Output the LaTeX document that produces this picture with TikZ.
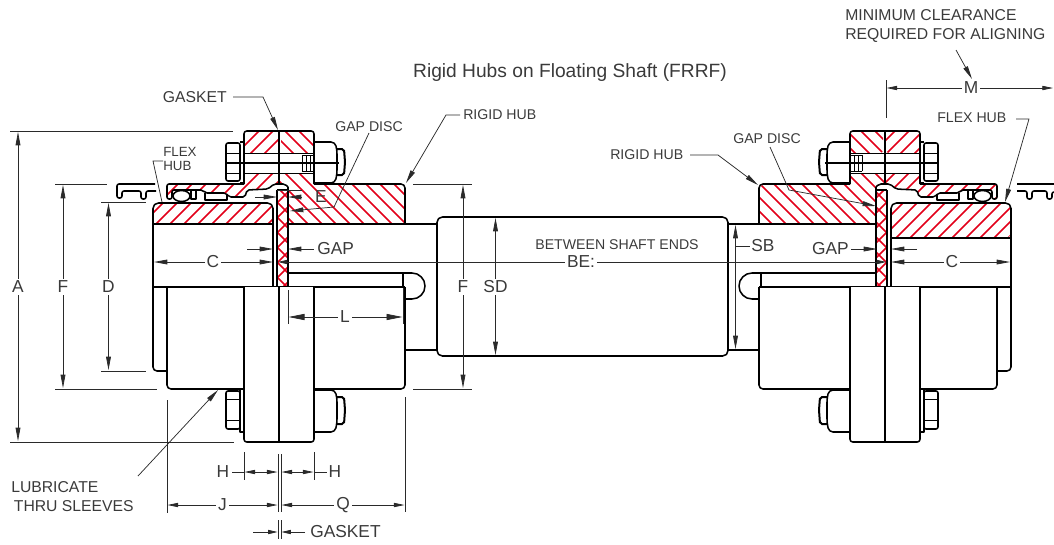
\documentclass[tikz,border=0pt]{standalone}
\usepackage{fontspec}
\setmainfont{Liberation Sans}
\usetikzlibrary{arrows.meta}
\definecolor{hatchred}{HTML}{E2001A}
\definecolor{dimgray}{HTML}{2A2A2A}
\definecolor{textgray}{HTML}{3A3A3A}
\tikzset{
  outline/.style={line width=1.15pt,black,line join=round},
  thinout/.style={line width=0.7pt,black},
  hatchline/.style={line width=1.1pt,hatchred},
  dimline/.style={line width=0.55pt,dimgray},
  tipline/.style={dimline,-{Triangle[length=10pt,width=3.6pt]}},
  smalltip/.style={dimline,-{Triangle[length=7pt,width=3.2pt]}},
  bigtip/.style={dimline,-{Triangle[length=10pt,width=4.6pt]}},
  lab/.style={font=\fontsize{13}{13}\selectfont,text=textgray,inner sep=1.5pt,fill=white},
  nolab/.style={font=\fontsize{13}{13}\selectfont,text=textgray,inner sep=0pt},
  small/.style={font=\fontsize{10.6}{10.6}\selectfont,text=textgray,inner sep=0pt},
  mid/.style={font=\fontsize{11.8}{14.4}\selectfont,text=textgray,inner sep=0pt},
}
% direction (+1 or -1), phase, clip path
\newcommand{\hatchreg}[3]{\begin{scope}\clip #3;
  \foreach \hc in {-200,-186,...,800}{\draw[hatchline] ({\hc+#2},0)--({\hc+#2+#1*560},560);}
\end{scope}}
% s = sleeve side direction, r = rigid side direction, #3 flex hub bore y
\newcommand{\halfcoupling}[3]{%
  % hatching
  \hatchreg{#1}{2}{[rounded corners=2] (244,153)--(244,131)--(278,131)--(278,153)--cycle}
  \hatchreg{#2}{4}{[rounded corners=2] (281,153)--(281,131)--(314,131)--(314,153)--cycle}
  \hatchreg{#1}{2}{(244,173)--(244,184)--(167,184)--(167,199)--(172,199)--(172,190)--(203,190)--(205,193)--(226,193)--(229,197)--(245,197)--(247,190)--(268,189)--(274,184)--(278,184)--(278,173)--cycle}
  \hatchreg{#2}{4}{(279,173)--(314,173)--(314,184)--(401,184)--(405,188)--(405,224)--(288,224)--(288,187)--(285,184)--(279,184)--cycle}
  \hatchreg{#1}{6}{[rounded corners=4] (153,#3)--(153,203)--(273,203)--(273,#3)--cycle}
  \begin{scope}\clip (277,190) rectangle (288,287);
    \foreach \hc in {0,15,...,600}{\draw[hatchline] (\hc,0)--({\hc-560},560);\draw[hatchline] ({\hc-300},0)--({\hc+260},560);}
  \end{scope}
  % upper flange
  \draw[outline,rounded corners=2] (244,184)--(244,131)--(314,131)--(314,184);
  \draw[line width=1.8pt] (279,131)--(279,184);
  \draw[thinout] (244,153)--(314,153) (244,173)--(314,173);
  % bolt head, washer
  \draw[outline,rounded corners=1.5] (240,143)--(226,143)--(226,181)--(240,181)--cycle;
  \draw[thinout] (226,153)--(240,153) (226,173)--(240,173);
  \draw[outline] (240,142)--(244,142) (240,183)--(244,183);
  % nut
  \draw[outline,rounded corners=3] (314,142)--(335,142)--(337,150)--(337,174)--(335,183)--(314,183);
  \draw[line width=1.5pt,rounded corners=1.5] (337,149)--(344,149)--(345,162)--(344,175)--(337,175);
  \draw[line width=1pt] (227,163)--(339,163);
  \draw[thinout] (302,155)--(302,171) (306,155)--(306,171) (310,155)--(310,171) (302,155)--(313,155) (302,171)--(313,171);
  % sleeve section outline
  \draw[outline,rounded corners=1.5] (244,184)--(167,184)--(167,199)--(172,199)--(172,190)--(203,190)--(205,193)--(226,193)--(229,197)--(245,197)--(247,190)--(268,189)--(274,184)--(285,184)--(288,187);
  \draw[outline] (181.5,196) ellipse [x radius=8.5,y radius=5.5];
  \draw[outline] (191,191)--(191,199)--(196,199)--(196,191);
  \draw[outline] (205,193)--(205,200)--(227,200)--(227,195);
  % rigid hub top
  \draw[outline,rounded corners=3] (314,184)--(405,184)--(405,224);
  \draw[outline] (288,224)--(437,224);
  \draw[outline] (288,187)--(288,287) (277,190)--(277,287) (277,190)--(288,190);
  % flex hub
  \draw[outline,rounded corners=4] (273,287)--(273,203)--(153,203)--(153,287);
  \draw[outline] (153,#3)--(273,#3);
  \draw[outline,rounded corners=3] (153,287)--(153,371)--(167,371);
  % key way
  \draw[outline] (288,273)--(412,273) arc[start angle=-90,end angle=90,radius=13] --(405,299);
  \draw[outline] (403,273)--(403,287);
  % lower half
  \draw[line width=1.4pt] (153,287)--(405,287);
  \draw[outline,rounded corners=3] (167,287)--(167,389)--(405,389)--(405,287);
  \draw[outline,rounded corners=2,fill=white] (244,287)--(244,442)--(314,442)--(314,287);
  \draw[line width=1.8pt] (279,287)--(279,442);
  % lower bolt
  \draw[outline,rounded corners=1.5] (240,391)--(226,391)--(226,429)--(240,429)--cycle;
  \draw[thinout] (226,399)--(240,399) (226,420)--(240,420);
  \draw[outline] (240,390)--(240,432)--(244,432);
  \draw[outline,rounded corners=3] (314,390)--(335,390)--(337,398)--(337,423)--(335,432)--(314,432);
  \draw[line width=1.5pt,rounded corners=1.5] (337,397)--(344,397)--(345,410)--(344,424)--(337,424);
  % shaft stubs
  \draw[outline] (405,350)--(437,350);
}
\begin{document}
\begin{tikzpicture}[x=0.75pt,y=-0.75pt]
\useasboundingbox (0,0) rectangle (1054,544);
\halfcoupling{-1}{1}{224}
\begin{scope}[shift={(1164,0)},xscale=-1]
\halfcoupling{1}{-1}{238}
\end{scope}
% floating shaft
\draw[outline,rounded corners=4] (437,217) rectangle (728,356);
% guards
\draw[outline,rounded corners=1.5] (155,184)--(117,184)--(117,198)--(122,198)--(122,191)--(141,191)--(141,199)--(146,199)--(146,191)--(156,191);
\draw[outline] (1017,184)--(1054,184);
\draw[outline,rounded corners=1.5] (1017,191)--(1027,191)--(1027,199)--(1032,199)--(1032,191)--(1047,191)--(1047,199)--(1052,199)--(1052,192)--(1054,192);
% title
\node[font=\fontsize{14.4}{15}\selectfont,text=textgray,inner sep=0pt] (title) at (570,72.5) {Rigid Hubs on Floating Shaft (FRRF)};
% extension lines
\draw[dimline] (10,131)--(233,131) (10,442)--(234,442);
\draw[dimline] (55,184)--(107,184) (55,389)--(157,389);
\draw[dimline] (101,202)--(146,202) (101,371)--(146,371);
\draw[dimline] (413,184)--(472,184) (413,389)--(472,389);
\draw[dimline] (167,400)--(167,513) (405,397)--(405,512);
\draw[dimline] (244,452)--(244,480) (314,452)--(314,480);
\draw[dimline] (278,454)--(278,512) (281,454)--(281,512) (278,520)--(278,539) (281,520)--(281,539);
\draw[dimline] (288,290)--(288,324) (403,288)--(403,324);
\draw[dimline] (277,190)--(302,190);
\draw[dimline] (886,80)--(886,118);
% vertical dimensions
\draw[tipline,{Triangle[length=10pt,width=3.6pt]}-{Triangle[length=10pt,width=3.6pt]}] (18,132)--(18,441);
\node[lab] (dimA) at (18,287) {A};
\draw[tipline,{Triangle[length=10pt,width=3.6pt]}-{Triangle[length=10pt,width=3.6pt]}] (63,185)--(63,388);
\node[lab] (dimF) at (63,287) {F};
\draw[tipline,{Triangle[length=10pt,width=3.6pt]}-{Triangle[length=10pt,width=3.6pt]}] (108.5,203)--(108.5,370);
\node[lab] (dimD) at (108.5,287) {D};
\draw[tipline,{Triangle[length=10pt,width=3.6pt]}-{Triangle[length=10pt,width=3.6pt]}] (463,185)--(463,388);
\node[lab] (dimFb) at (463,287) {F};
\draw[tipline,{Triangle[length=10pt,width=3.6pt]}-{Triangle[length=10pt,width=3.6pt]}] (495.5,218)--(495.5,355);
\node[lab] (dimSD) at (495.5,287) {SD};
\draw[tipline,{Triangle[length=10pt,width=3.6pt]}-{Triangle[length=10pt,width=3.6pt]}] (735.5,225)--(735.5,349);
\draw[dimline] (735.5,246)--(750,246);
\node[nolab,anchor=west] (dimSB) at (751,246) {SB};
% BE and C
\draw[smalltip,{Triangle[length=7pt,width=3.2pt]}-{Triangle[length=7pt,width=3.2pt]}] (278,262)--(886,262);
\node[lab] (dimBE) at (581,262) {BE:};
\node[small] (between) at (617,245) {BETWEEN SHAFT ENDS};
\draw[bigtip,{Triangle[length=10pt,width=3.6pt]}-{Triangle[length=10pt,width=3.6pt]}] (154,262)--(273,262);
\node[lab] (dimCa) at (213,262) {C};
\draw[bigtip,{Triangle[length=10pt,width=3.6pt]}-{Triangle[length=10pt,width=3.6pt]}] (891,262)--(1010,262);
\node[lab] (dimCb) at (952,262) {C};
% GAP
\draw[tipline] (247,249)--(273,249);
\draw[tipline] (314,249)--(288,249);
\node[nolab,anchor=west] (gapa) at (317,249) {GAP};
\draw[tipline] (917,249)--(891,249);
\draw[tipline] (851,249)--(877,249);
\node[nolab,anchor=east] (gapb) at (849,249) {GAP};
% E
\draw[tipline] (255,197)--(277,197);
\draw[tipline] (302,197)--(288,197);
\node[nolab] (dimE) at (321,197) {E};
% L
\draw[bigtip,{Triangle[length=12pt,width=4.6pt]}-{Triangle[length=12pt,width=4.6pt]}] (288.5,317)--(402.5,317);
\node[lab] (dimL) at (345,317) {L};
% H
\draw[smalltip,{Triangle[length=8pt,width=3.2pt]}-{Triangle[length=8pt,width=3.2pt]}] (244.5,472)--(277.5,472);
\draw[dimline] (232,472)--(244,472);
\node[nolab] (hl) at (223,472) {H};
\draw[smalltip,{Triangle[length=8pt,width=3.2pt]}-{Triangle[length=8pt,width=3.2pt]}] (281.5,472)--(313.5,472);
\draw[dimline] (314,472)--(327,472);
\node[nolab] (hr) at (335,472) {H};
% J, Q
\draw[smalltip,{Triangle[length=8pt,width=3.2pt]}-{Triangle[length=8pt,width=3.2pt]}] (167.5,505)--(277.5,505);
\node[lab] (dimJ) at (222.5,505) {J};
\draw[smalltip,{Triangle[length=8pt,width=3.2pt]}-{Triangle[length=8pt,width=3.2pt]}] (281.5,505)--(404.5,505);
\node[lab] (dimQ) at (343,505) {Q};
% gasket dim
\draw[smalltip] (253,532)--(277.5,532);
\draw[smalltip] (305,532)--(281.5,532);
\node[nolab,anchor=west] (gasketb) at (310,532) {GASKET};
% M
\draw[smalltip,{Triangle[length=8pt,width=3.2pt]}-{Triangle[length=8pt,width=3.2pt]}] (886.5,88)--(1053,88);
\node[lab] (dimM) at (971,88) {M};
\node[mid,align=left,anchor=north west] (minclear) at (845,9) {MINIMUM CLEARANCE\\REQUIRED FOR ALIGNING};
\draw[tipline] (956,50)--(972,79);
% labels with leaders
\node[mid,anchor=east] (gasketa) at (227,97) {GASKET};
\draw[tipline] (233,97)--(263,97)--(278,130);
\node[small,anchor=west] (gdiscl) at (335,127) {GAP DISC};
\draw[tipline] (369,133)--(334,207)--(290,211);
\node[small,anchor=west] (rhubl) at (463,115) {RIGID HUB};
\draw[tipline] (460,115)--(446,115)--(406,183);
\node[small,anchor=west] (rhubr) at (610,155) {RIGID HUB};
\draw[tipline] (690,155)--(718,155)--(758,185);
\node[small,anchor=west] (gdiscr) at (733,139) {GAP DISC};
\draw[tipline] (770,147)--(789,190)--(876,206);
\node[small,anchor=west] (fhubr) at (937,118) {FLEX HUB};
\draw[tipline] (1016,119)--(1029,119)--(1005,202);
\node[font=\fontsize{10}{10.6}\selectfont,text=textgray,inner sep=0pt,align=left,anchor=west] (fhubl) at (163,159) {FLEX\\HUB};
\draw[dimline] (163,161)--(153,161)--(162,202);
\node[mid,align=left,anchor=north west] (lube) at (11,481) {LUBRICATE\\\,THRU SLEEVES};
\draw[tipline] (138,476)--(218,390);
\end{tikzpicture}
\end{document}
